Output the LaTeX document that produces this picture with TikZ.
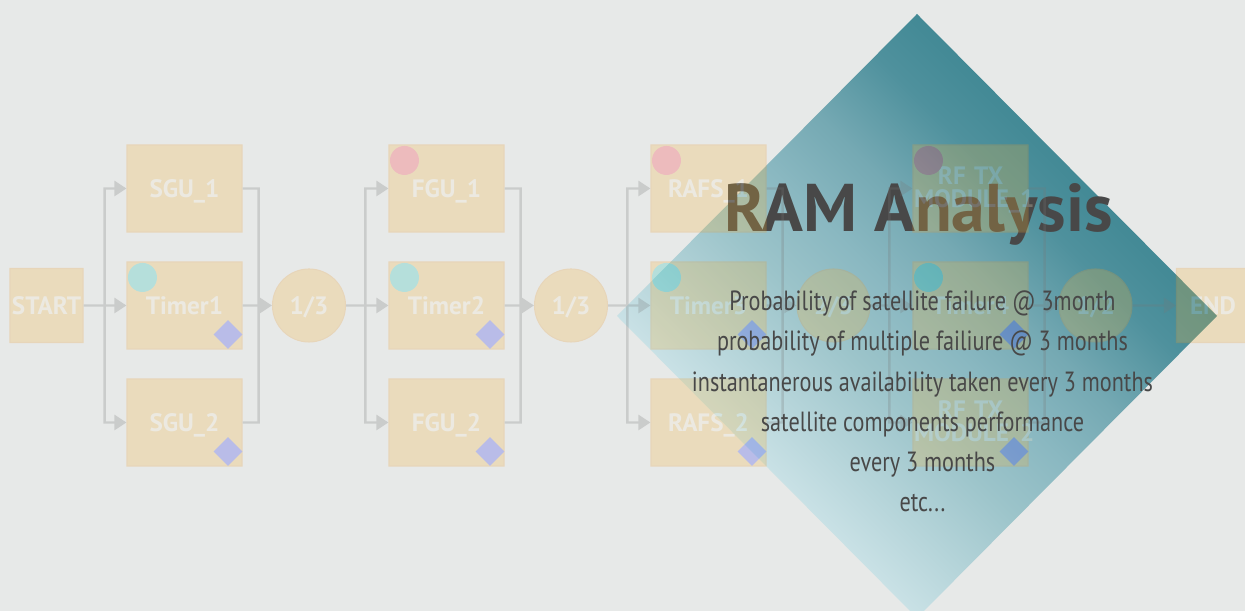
\documentclass[tikz,border=0pt]{standalone}
\usepackage{fontspec}
\setmainfont{PT Sans}
\newfontfamily\narrowfont[FakeStretch=0.8]{PT Sans}
\usetikzlibrary{positioning}
\usetikzlibrary{calc}
\usetikzlibrary{arrows.meta}
\usetikzlibrary{shapes.geometric}
\definecolor{pagebg}{HTML}{E7E9E8}
\definecolor{boxfill}{HTML}{F3B43C}
\definecolor{boxedge}{HTML}{E89C30}
\definecolor{wire}{HTML}{777777}
\definecolor{dotteal}{HTML}{20C4B8}
\definecolor{dotred}{HTML}{FF3440}
\definecolor{flagblue}{HTML}{3038E8}
\definecolor{inktext}{HTML}{484848}
\definecolor{rampA}{HTML}{D5E9ED}
\definecolor{rampB}{HTML}{9CC4CA}
\definecolor{rampC}{HTML}{8AB8C1}
\definecolor{rampD}{HTML}{75A9B3}
\definecolor{rampE}{HTML}{4F919D}
\definecolor{rampF}{HTML}{3A8490}
\pgfdeclarehorizontalshading{rampshade}{100bp}{
  color(0bp)=(rampA); color(29bp)=(rampA); color(44bp)=(rampB); color(50bp)=(rampC);
  color(56bp)=(rampD); color(63bp)=(rampE); color(71bp)=(rampF); color(100bp)=(rampF)}
\tikzset{>={Triangle[length=2.4mm,width=3mm]}}
\tikzset{wirec/.style={draw=wire,line width=1.4pt}}
\tikzset{unit/.style={draw=boxedge,line width=0.6pt,fill=boxfill,minimum width=2.3cm,minimum height=1.74cm,
  inner sep=0pt,align=center,text depth=0pt,text=white!75!boxfill,font=\bfseries\fontsize{14.3}{13}\selectfont}}
\tikzset{term/.style={unit,minimum width=1.46cm,minimum height=1.48cm}}
\tikzset{vote/.style={unit,circle,minimum size=1.46cm}}
\tikzset{wideunit/.style={unit,text width=2.26cm,text depth=0.51cm}}
\tikzset{dot/.style={circle,minimum size=0.58cm,inner sep=0pt}}
\tikzset{flag/.style={diamond,fill=flagblue,minimum size=0.58cm,inner sep=0pt}}

\begin{document}
\begin{tikzpicture}[on grid]
    \useasboundingbox (0,0) rectangle (24.9,12.22);
    \clip (0,0) rectangle (24.9,12.22);
    \fill[pagebg] (0,0) rectangle (24.9,12.22);

    \coordinate (dtop) at (18.34,11.94);
    \coordinate (dleft) at (12.34,5.9);
    \coordinate (dbot) at (18.34,-0.14);
    \coordinate (dright) at (24.34,5.9);
    \shade[shading=rampshade,shading angle=45] (dtop) -- (dright) -- (dbot) -- (dleft) -- cycle;

    \node[text=inktext,font=\bfseries\fontsize{38.4}{44}\selectfont] (title) at (18.37,7.94) {RAM Analysis};

    \begin{scope}[transparency group,opacity=0.25]
    \node[term] (start) at (0.93,6.11) {START};
    \node[unit, right=2.76 of start] (timerA) {Timer1};
    \node[unit, above=2.34 of timerA] (sguA) {SGU\_1};
    \node[unit, below=2.34 of timerA] (sguB) {SGU\_2};
    \node[vote, right=2.49 of timerA] (voteA) {1/3};

    \node[unit, right=2.75 of voteA] (timerB) {Timer2};
    \node[unit, above=2.34 of timerB] (fguA) {FGU\_1};
    \node[unit, below=2.34 of timerB] (fguB) {FGU\_2};
    \node[vote, right=2.49 of timerB] (voteB) {1/3};

    \node[unit, right=2.75 of voteB] (timerC) {Timer3};
    \node[unit, above=2.34 of timerC] (rafsA) {RAFS\_1};
    \node[unit, below=2.34 of timerC] (rafsB) {RAFS\_2};
    \node[vote, right=2.5 of timerC] (voteC) {2/3};

    \node[unit, right=2.74 of voteC] (timerD) {Timer4};
    \node[wideunit, above=2.34 of timerD] (rfA) {RF TX\\MODULE\_1};
    \node[wideunit, below=2.34 of timerD] (rfB) {RF TX\\MODULE\_2};
    \node[vote, right=2.5 of timerD] (voteD) {1/2};
    \node[term, right=2.35 of voteD] (end) {END};

    \node[dot, fill=dotteal] (dotA) at ($(timerA.north west)+(0.32,-0.32)$) {};
    \node[dot, fill=dotred] (dotB) at ($(fguA.north west)+(0.32,-0.32)$) {};
    \node[dot, fill=dotteal] (dotC) at ($(timerB.north west)+(0.32,-0.32)$) {};
    \node[dot, fill=dotred] (dotD) at ($(rafsA.north west)+(0.32,-0.32)$) {};
    \node[dot, fill=dotteal] (dotE) at ($(timerC.north west)+(0.32,-0.32)$) {};
    \node[dot, fill=dotred] (dotF) at ($(rfA.north west)+(0.32,-0.32)$) {};
    \node[dot, fill=dotteal] (dotG) at ($(timerD.north west)+(0.32,-0.32)$) {};

    \node[flag] (flagA) at ($(timerA.south east)+(-0.29,0.3)$) {};
    \node[flag] (flagB) at ($(sguB.south east)+(-0.29,0.3)$) {};
    \node[flag] (flagC) at ($(timerB.south east)+(-0.29,0.3)$) {};
    \node[flag] (flagD) at ($(fguB.south east)+(-0.29,0.3)$) {};
    \node[flag] (flagE) at ($(timerC.south east)+(-0.29,0.3)$) {};
    \node[flag] (flagF) at ($(rafsB.south east)+(-0.29,0.3)$) {};
    \node[flag] (flagG) at ($(timerD.south east)+(-0.29,0.3)$) {};
    \node[flag] (flagH) at ($(rfB.south east)+(-0.29,0.3)$) {};

    \coordinate[right=0.42 of start.east] (inA);
    \coordinate[right=0.32 of timerA.east] (outA);
    \coordinate[left=0.46 of timerB.west] (inB);
    \coordinate[right=0.32 of timerB.east] (outB);
    \coordinate[left=0.46 of timerC.west] (inC);
    \coordinate[right=0.32 of timerC.east] (outC);
    \coordinate[left=0.46 of timerD.west] (inD);
    \coordinate[right=0.32 of timerD.east] (outD);

    \draw[wirec,->] (start) -- (timerA);
    \draw[wirec,->] (inA) |- (sguA);
    \draw[wirec,->] (inA) |- (sguB);
    \draw[wirec,->] (timerA) -- (voteA);
    \draw[wirec] (sguA) -| (outA);
    \draw[wirec] (sguB) -| (outA);

    \draw[wirec,->] (voteA) -- (timerB);
    \draw[wirec,->] (inB) |- (fguA);
    \draw[wirec,->] (inB) |- (fguB);
    \draw[wirec,->] (timerB) -- (voteB);
    \draw[wirec] (fguA) -| (outB);
    \draw[wirec] (fguB) -| (outB);

    \draw[wirec,->] (voteB) -- (timerC);
    \draw[wirec,->] (inC) |- (rafsA);
    \draw[wirec,->] (inC) |- (rafsB);
    \draw[wirec,->] (timerC) -- (voteC);
    \draw[wirec] (rafsA) -| (outC);
    \draw[wirec] (rafsB) -| (outC);

    \draw[wirec,->] (voteC) -- (timerD);
    \draw[wirec,->] (inD) |- (rfA);
    \draw[wirec,->] (inD) |- (rfB);
    \draw[wirec,->] (timerD) -- (voteD);
    \draw[wirec] (rfA) -| (outD);
    \draw[wirec] (rfB) -| (outD);

    \draw[wirec,->] (voteD) -- (end);
    \end{scope}

    \node[text=inktext,align=center,font=\narrowfont\fontsize{15.8}{22.9}\selectfont] (body) at (18.45,4.19)
      {Probability of satellite failure @ 3month\\
       probability of multiple failiure @ 3 months\\
       instantanerous availability taken every 3 months\\
       satellite components performance\\
       every 3 months\\
       etc...};
\end{tikzpicture}
\end{document}
